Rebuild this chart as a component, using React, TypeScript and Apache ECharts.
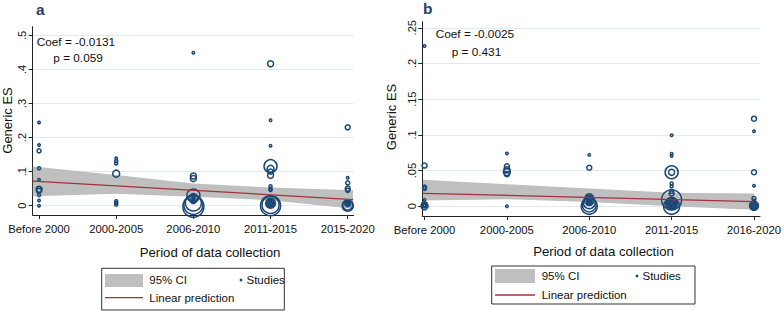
import React, { useEffect, useRef } from 'react';
import * as echarts from 'echarts';

// ---------- data ----------
const categoriesA = ['Before 2000', '2000-2005', '2006-2010', '2011-2015', '2015-2020'];
const categoriesB = ['Before 2000', '2000-2005', '2006-2010', '2011-2015', '2016-2020'];
const xTickValues = [1, 2, 3, 4, 5];

const yTicksA = [0, 0.1, 0.2, 0.3, 0.4, 0.5];
const yTickLabelsA = ['0', '.1', '.2', '.3', '.4', '.5'];
const yTicksB = [0, 0.05, 0.1, 0.15, 0.2, 0.25];
const yTickLabelsB = ['0', '.05', '.1', '.15', '.2', '.25'];

// 95% CI band (x, upper, lower)
const ciXA = [0.92, 2, 3, 4, 5.07];
const ciUpperA = [0.115, 0.09, 0.065, 0.053, 0.045];
const ciLowerA = [0.028, 0.035, 0.026, 0.016, -0.009];
const ciXB = [0.98, 2, 3, 4, 5];
const ciUpperB = [0.037, 0.031, 0.025, 0.019, 0.018];
const ciLowerB = [0.008, 0.01, 0.006, 0.0, -0.005];

// Linear prediction
const predXA = [0.92, 5.07];
const predYA = [0.072, 0.018];
const predXB = [0.98, 5];
const predYB = [0.0182, 0.0066];

// Studies: [period index, effect size, marker diameter (weight)]
const studiesA: number[][] = [
  [1, 0.244, 2.5], [1, 0.178, 2.5], [1, 0.161, 4], [1, 0.11, 3], [1, 0.076, 2.5],
  [1, 0.048, 6], [1, 0.044, 5], [1, 0.031, 3], [1, 0.015, 2.5], [1, 0.0, 2.5],
  [2, 0.139, 2.5], [2, 0.131, 3], [2, 0.124, 3], [2, 0.094, 7], [2, 0.013, 3],
  [2, 0.008, 3], [2, 0.003, 3],
  [3, 0.449, 2.5], [3, 0.087, 6], [3, 0.08, 6], [3, 0.03, 13], [3, 0.022, 9],
  [3, 0.016, 6], [3, 0.012, 4], [3, 0.018, 2.5], [3, 0.012, 2.5], [3, 0.008, 16],
  [3, 0.002, 19], [3, -0.003, 21],
  [4, 0.417, 6], [4, 0.251, 2.5], [4, 0.176, 2.5], [4, 0.116, 13], [4, 0.108, 7],
  [4, 0.1, 5], [4, 0.089, 6], [4, 0.057, 3], [4, 0.05, 3], [4, 0.046, 3],
  [4, 0.007, 2], [4, 0.007, 4], [4, 0.007, 6], [4, 0.007, 8], [4, 0.007, 10],
  [4, 0.002, 17], [4, 0.0, 20],
  [5, 0.23, 5], [5, 0.082, 2.5], [5, 0.067, 4], [5, 0.05, 5], [5, 0.045, 4],
  [5, 0.012, 3], [5, 0.006, 2], [5, 0.006, 4], [5, 0.006, 6], [5, 0.002, 10], [5, 0.0, 11],
];
const studiesB: number[][] = [
  [1, 0.2245, 2.5], [1, 0.057, 5], [1, 0.027, 4], [1, 0.025, 4], [1, 0.009, 2.5],
  [1, 0.002, 6], [1, 0.0, 7], [1, 0.001, 2.5], [1, 0.001, 4],
  [2, 0.074, 2.5], [2, 0.056, 5], [2, 0.051, 6], [2, 0.048, 7], [2, 0.045, 5], [2, 0.0, 2.5],
  [3, 0.072, 2.5], [3, 0.054, 5], [3, 0.012, 8], [3, 0.008, 10], [3, 0.005, 12],
  [3, 0.002, 14], [3, 0.0, 16], [3, 0.006, 2], [3, 0.006, 4], [3, 0.006, 6],
  [4, 0.0995, 2.5], [4, 0.0735, 2.5], [4, 0.0705, 2.5], [4, 0.0477, 13], [4, 0.0477, 6],
  [4, 0.032, 3], [4, 0.028, 3], [4, 0.021, 4], [4, 0.018, 5], [4, 0.009, 20],
  [4, 0.004, 2], [4, 0.004, 4], [4, 0.004, 6], [4, 0.004, 8], [4, 0.004, 10], [4, 0.004, 12],
  [4, 0.0, 16],
  [5, 0.1227, 5], [5, 0.105, 2.5], [5, 0.0477, 5], [5, 0.0289, 2.5], [5, 0.011, 4],
  [5, 0.008, 3], [5, 0.0, 2], [5, 0.0, 4], [5, 0.0, 6], [5, 0.0, 8], [5, 0.001, 9],
];

const coefTextA = ['Coef = -0.0131', 'p = 0.059'];
const coefTextB = ['Coef = -0.0025', 'p = 0.431'];

// ---------- styles ----------
const FONT = '"Liberation Sans", Arial, Helvetica, sans-serif';
const NAVY = '#1b4776';
const RED = '#a3323c';
const CI_GRAY = '#bfbfbf';
const GRID_COLOR = '#dfebef';
const AXIS_COLOR = '#222';

const pick = (ticks: number[], labels: string[]) => (v: number) => {
  const i = ticks.findIndex((t) => Math.abs(t - v) < 1e-9);
  return i >= 0 ? labels[i] : '';
};

function panel(idx: number, layout: any, d: any) {
  const grid = {
    left: layout.left, top: layout.top, width: layout.width, height: layout.height,
    containLabel: false, outerBoundsMode: 'none',
  };
  const xAxis = {
    type: 'value', gridIndex: idx, min: layout.xmin, max: layout.xmax,
    axisLine: { show: true, onZero: false, lineStyle: { color: AXIS_COLOR, width: 1 } },
    axisTick: { show: true, customValues: xTickValues, length: 4, lineStyle: { color: AXIS_COLOR } },
    axisLabel: {
      show: true, customValues: xTickValues, fontSize: 11.3, color: '#111', fontFamily: FONT, margin: 8,
      formatter: (v: number) => d.categories[Math.round(v) - 1] ?? '',
    },
    splitLine: { show: false },
  };
  const yAxis = {
    type: 'value', gridIndex: idx, min: layout.ymin, max: layout.ymax,
    axisLine: { show: true, onZero: false, lineStyle: { color: AXIS_COLOR, width: 1 } },
    axisTick: { show: true, customValues: d.yTicks, length: 4, lineStyle: { color: AXIS_COLOR } },
    axisLabel: {
      show: true, customValues: d.yTicks, rotate: 90, fontSize: 11, color: '#111', fontFamily: FONT, margin: 5,
      formatter: pick(d.yTicks, d.yTickLabels),
    },
    splitLine: { show: true, lineStyle: { color: GRID_COLOR, width: 1 } },
  };
  const bandData = d.ciX.map((x: number, i: number) => [x, d.ciUpper[i], d.ciLower[i]]);
  const series = [
    {
      type: 'custom', xAxisIndex: idx, yAxisIndex: idx, z: 1, clip: false,
      data: bandData,
      encode: { x: 0, y: [1, 2] },
      renderItem: (params: any, api: any) => {
        if (params.dataIndex !== 0) return null;
        const up = bandData.map((p: number[]) => api.coord([p[0], p[1]]));
        const lo = bandData.map((p: number[]) => api.coord([p[0], p[2]])).reverse();
        return { type: 'polygon', shape: { points: up.concat(lo) }, style: { fill: CI_GRAY } };
      },
    },
    {
      type: 'scatter', xAxisIndex: idx, yAxisIndex: idx, z: 2, clip: false,
      data: d.studies,
      symbol: 'circle',
      symbolSize: (v: number[]) => v[2],
      itemStyle: { color: 'rgba(0,0,0,0)', borderColor: NAVY, borderWidth: 1.5, opacity: 1 },
      emphasis: { disabled: true },
    },
    {
      type: 'line', xAxisIndex: idx, yAxisIndex: idx, z: 3, clip: false,
      data: d.predX.map((x: number, i: number) => [x, d.predY[i]]),
      symbol: 'none',
      lineStyle: { color: RED, width: 1.3 },
    },
  ];
  return { grid, xAxis, yAxis, series };
}

function text(x: number, y: number, t: string, size: number, extra: any = {}) {
  return {
    type: 'text', x, y, silent: true,
    style: { text: t, fontSize: size, fontFamily: FONT, fill: '#111', align: 'left', verticalAlign: 'middle', ...(extra.style || {}) },
    ...(extra.el || {}),
  };
}

function legend(bx: number, by: number, bw: number, bh: number, sx: number, sy: number, sw: number, sh: number,
  row1: number, row2: number, tx: number, dotX: number) {
  return [
    { type: 'rect', shape: { x: bx, y: by, width: bw, height: bh }, style: { fill: '#fff', stroke: '#333', lineWidth: 1 }, silent: true },
    { type: 'rect', shape: { x: sx, y: sy, width: sw, height: sh }, style: { fill: CI_GRAY }, silent: true },
    text(tx, row1, '95% CI', 11.5),
    { type: 'circle', shape: { cx: dotX, cy: row1, r: 1.4 }, style: { fill: NAVY }, silent: true },
    text(dotX + 5.5, row1, 'Studies', 11.5),
    { type: 'line', shape: { x1: sx, y1: row2, x2: sx + sw, y2: row2 }, style: { stroke: RED, lineWidth: 1.3 }, silent: true },
    text(tx, row2, 'Linear prediction', 11.5),
  ];
}

export default function App() {
  const ref = useRef<HTMLDivElement>(null);
  useEffect(() => {
    if (!ref.current) return;
    const chart = echarts.init(ref.current, null, { renderer: 'svg' });
    const pA = panel(0,
      { left: 32.7, top: 26.7, width: 320.8, height: 188.3, xmin: 0.918, xmax: 5.075, ymin: -0.0274, ymax: 0.5256 },
      { categories: categoriesA, yTicks: yTicksA, yTickLabels: yTickLabelsA, ciX: ciXA, ciUpper: ciUpperA, ciLower: ciLowerA, predX: predXA, predY: predYA, studies: studiesA });
    const pB = panel(1,
      { left: 422.3, top: 21.7, width: 337.7, height: 194.3, xmin: 0.973, xmax: 5.073, ymin: -0.0136, ymax: 0.2585 },
      { categories: categoriesB, yTicks: yTicksB, yTickLabels: yTickLabelsB, ciX: ciXB, ciUpper: ciUpperB, ciLower: ciLowerB, predX: predXB, predY: predYB, studies: studiesB });

    const graphic: any[] = [
      text(36, 9.5, 'a', 15.5, { style: { fontWeight: 'bold', fill: '#24406c' } }),
      text(423, 8.5, 'b', 15.5, { style: { fontWeight: 'bold', fill: '#24406c' } }),
      text(36.7, 41.7, coefTextA[0], 11.8),
      text(53.3, 58.3, coefTextA[1], 11.8),
      text(435.7, 34.3, coefTextB[0], 11.8),
      text(451.7, 51.7, coefTextB[1], 11.8),
      text(7.5, 120.5, 'Generic ES', 13, { style: { align: 'center' }, el: { rotation: Math.PI / 2 } }),
      text(391, 117, 'Generic ES', 13, { style: { align: 'center' }, el: { rotation: Math.PI / 2 } }),
      text(210, 252.7, 'Period of data collection', 13.2, { style: { align: 'center' } }),
      text(603.5, 251, 'Period of data collection', 13.2, { style: { align: 'center' } }),
      ...legend(101.7, 268.3, 182.6, 41.7, 105, 274, 38, 13, 280, 297.7, 149.3, 241),
      ...legend(491.7, 266, 203.3, 38, 495, 269, 40, 14, 276, 295, 541.7, 637),
    ];

    chart.setOption({
      animation: false,
      backgroundColor: '#fff',
      textStyle: { fontFamily: FONT },
      grid: [pA.grid, pB.grid],
      xAxis: [pA.xAxis, pB.xAxis],
      yAxis: [pA.yAxis, pB.yAxis],
      series: [...pA.series, ...pB.series],
      graphic,
    });
    return () => chart.dispose();
  }, []);
  return <div ref={ref} style={{ position: 'fixed', left: 0, top: 0, width: 784, height: 311, background: '#fff' }} />;
}
